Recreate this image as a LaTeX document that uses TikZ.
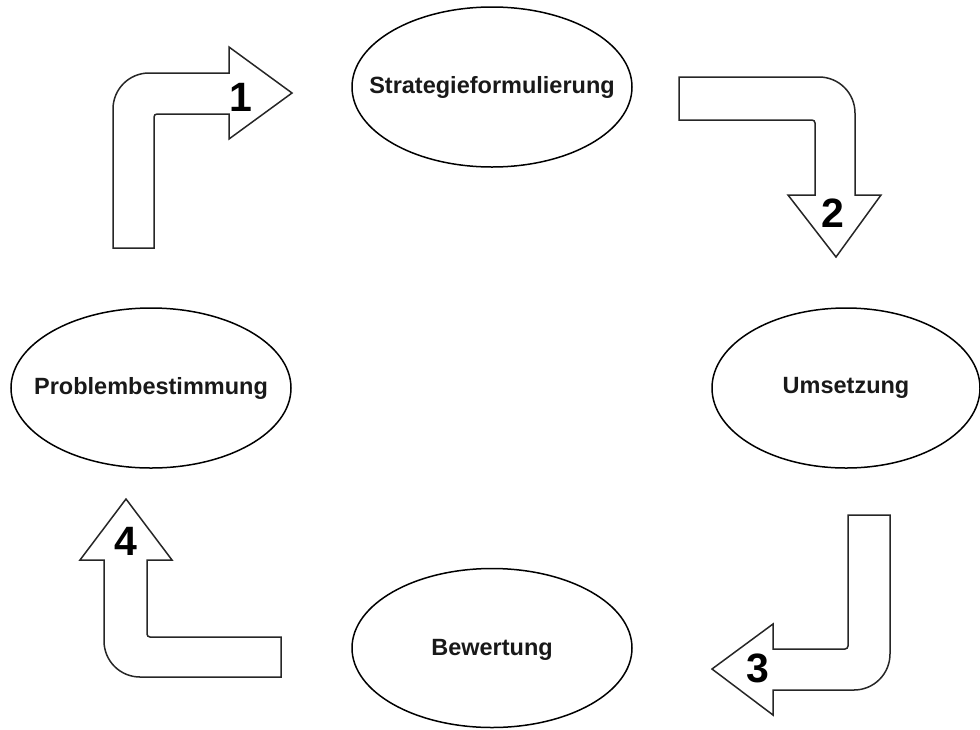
\documentclass[tikz,border=0pt]{standalone}
\usepackage{fontspec}
\setmainfont{Liberation Sans}
\usetikzlibrary{shapes.geometric}
\begin{document}
\begin{tikzpicture}[x=1pt,y=-1pt,
  stage/.style={ellipse,draw=black,line width=1.5pt,inner sep=0pt},
  stagetext/.style={inner sep=0pt,font=\fontsize{23.5}{28}\selectfont\bfseries,text=black!90},
  bigarrow/.style={draw=black!85,line width=1.5pt,line join=miter},
  stepnum/.style={inner sep=0pt,font=\fontsize{41}{46}\selectfont\bfseries}]
\useasboundingbox (0,0) rectangle (980,729);
% stages
\node[stage,minimum width=280pt,minimum height=160pt] (s) at (492,87) {};
\node[stagetext] (st) at (s.center) {Strategieformulierung};
\node[stage,minimum width=268pt,minimum height=160pt] (u) at (846,388) {};
\node[stagetext] (ut) at (u.center) {Umsetzung};
\node[stage,minimum width=280pt,minimum height=159pt] (b) at (492,648) {};
\node[stagetext] (bt) at ([yshift=-2pt]b.center) {Bewertung};
\node[stage,minimum width=280pt,minimum height=160pt] (p) at (151,388) {};
\node[stagetext] (pt) at (p.center) {Problembestimmung};
% arrow 1
\draw[bigarrow] (113,248) [rounded corners=36pt] -- (113,73) [sharp corners] -- (229,73) -- (229,47) -- (292,93) -- (229,139) -- (229,114) [rounded corners=3pt] -- (154,114) [sharp corners] -- (154,248) -- cycle;
\node[stepnum] (n1) at (241,97) {1};
% arrow 2
\draw[bigarrow] (679,77) [rounded corners=36pt] -- (855,77) [sharp corners] -- (855,195) -- (881,195) -- (836,257) -- (788,195) -- (815,195) [rounded corners=3pt] -- (815,120) [sharp corners] -- (679,120) -- cycle;
\node[stepnum] (n2) at (833,213) {2};
% arrow 3
\draw[bigarrow] (848,515) -- (890,515) [rounded corners=36pt] -- (890,690) [sharp corners] -- (773,690) -- (773,715) -- (712,669) -- (773,624) -- (773,649) [rounded corners=3pt] -- (848,649) [sharp corners] -- cycle;
\node[stepnum] (n3) at (758,668) {3};
% arrow 4
\draw[bigarrow] (281,637) -- (281,677) [rounded corners=36pt] -- (104,677) [sharp corners] -- (104,560) -- (80,560) -- (126,499) -- (172,560) -- (147,560) [rounded corners=3pt] -- (147,637) [sharp corners] -- cycle;
\node[stepnum] (n4) at (126,541) {4};
\end{tikzpicture}
\end{document}
